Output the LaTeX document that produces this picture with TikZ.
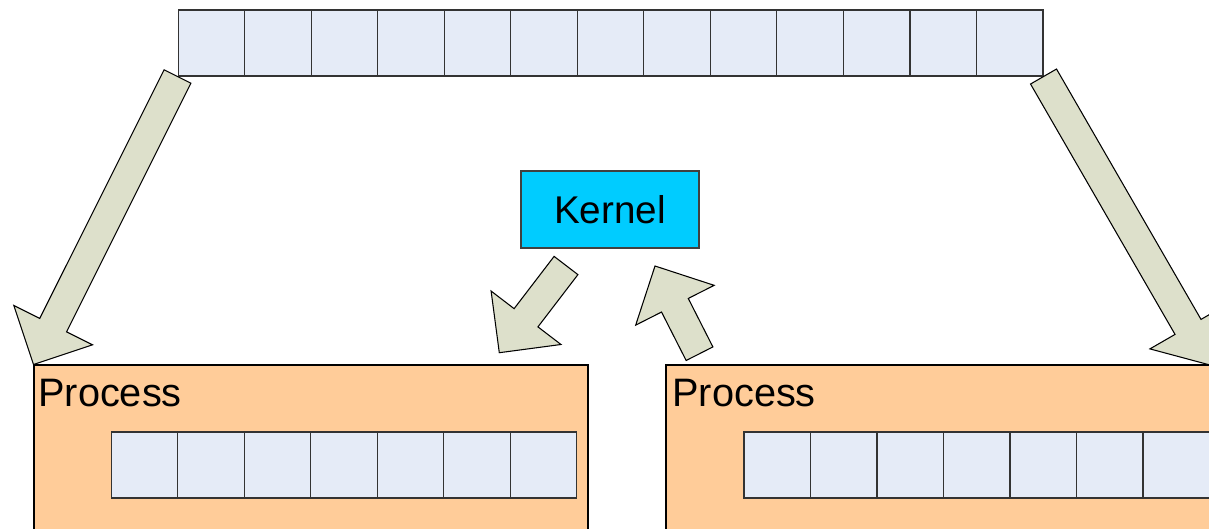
\documentclass[tikz,border=0pt]{standalone}
\usepackage{fontspec}
\setmainfont{Liberation Sans}
\usetikzlibrary{calc,fit}
\definecolor{cellfill}{HTML}{E5EBF7}
\definecolor{procfill}{HTML}{FFCC99}
\definecolor{kernfill}{HTML}{00CCFF}
\definecolor{arrfill}{HTML}{DDE0CB}
\tikzset{
  cell/.style={draw=black!80, fill=cellfill, line width=0.6pt, minimum width=1.33cm, minimum height=1.32cm, inner sep=0},
  procbox/.style={draw=black, fill=procfill, line width=0.6pt, inner sep=0},
  kernbox/.style={draw=black!75, fill=kernfill, line width=0.6pt, minimum width=3.56cm, minimum height=1.54cm, inner sep=0, font=\fontsize{22}{26}\selectfont},
  proclabel/.style={anchor=base west, inner sep=0, font=\fontsize{22.6}{27}\selectfont},
  blockarrow/.style={draw=black, fill=arrfill, line width=0.6pt, line join=miter}
}
% block arrow from tail #1 to tip #2
\newcommand\blockarrow[2]{%
  \path ($(#2)!0.88cm!(#1)$) coordinate (hd);
  \draw[blockarrow] ($(#1)!0.3cm!90:(#2)$) -- ($(hd)!0.3cm!90:(#2)$) -- ($(hd)!0.88cm!90:(#2)$)
    -- (#2) -- ($(hd)!0.88cm!-90:(#2)$) -- ($(hd)!0.3cm!-90:(#2)$) -- ($(#1)!0.3cm!-90:(#2)$) -- cycle;
}
\begin{document}
\begin{tikzpicture}[x=0.02cm, y=-0.02cm]
\useasboundingbox (0,0) rectangle (1209,528);
\clip (0,0) rectangle (1209,528);
\fill[white] (0,0) rectangle (1209,528);

% shared array at the top
\foreach \i in {1,...,13} {
  \node[cell] (t\i) at ({178+66.54*(\i-0.5)}, 43) {};
}

% kernel
\node[kernbox] (k) at (610,209.5) {Kernel};

% the two processes
\node[procbox, fit={(34,365) (588,560)}] (lp) {};
\node[proclabel] (lpt) at (38,406) {Process};
\foreach \i in {1,...,7} {
  \node[cell] (l\i) at ({111+66.57*(\i-0.5)}, 465) {};
}
\node[procbox, fit={(666,365) (1260,560)}] (rp) {};
\node[proclabel] (rpt) at (672,406) {Process};
\foreach \i in {1,...,7} {
  \node[cell] (r\i) at ({744+66.5*(\i-0.5)}, 465) {};
}

% arrow end points
\coordinate (rtip) at (1210,365);
\coordinate (ka) at (566,265.5);
\coordinate (kb) at (499.3,352.7);
\coordinate (pa) at (699.5,353.7);
\coordinate (pb) at (655,266);

\blockarrow{t1.south west}{lp.north west}
\blockarrow{t13.south east}{rtip}
\blockarrow{ka}{kb}
\blockarrow{pa}{pb}
\end{tikzpicture}
\end{document}
